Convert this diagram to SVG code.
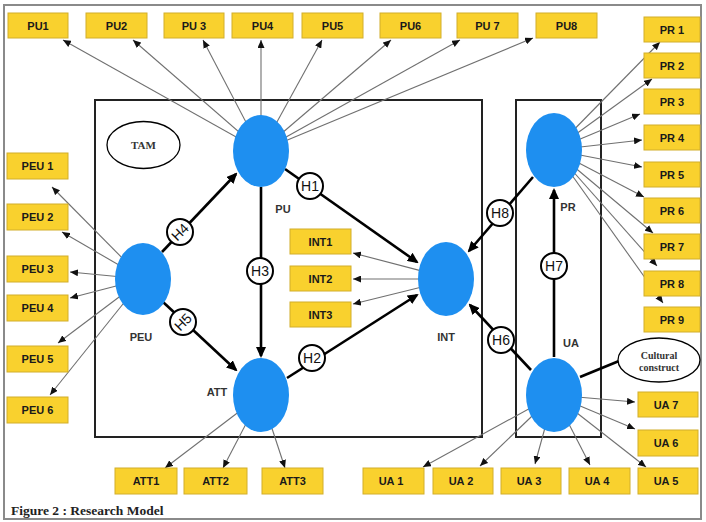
<svg xmlns="http://www.w3.org/2000/svg" width="706" height="522" viewBox="0 0 706 522">
<defs>
<style>
.frame{fill:#fff;stroke:#8a8a8a;stroke-width:2}
.panel{fill:none;stroke:#222;stroke-width:2}
.ind rect{fill:#F9D12E;stroke:#D2AE2A;stroke-width:1}
.ind text{font-family:"Liberation Sans",Arial,sans-serif;font-weight:bold;font-size:11px;fill:#1a1a1a;text-anchor:middle}
.lv ellipse{fill:#1E8FF0}
.lv text{font-family:"Liberation Sans",Arial,sans-serif;font-weight:bold;font-size:11px;fill:#333;text-anchor:middle}
.thin{stroke:#707070;stroke-width:1.1;fill:none;marker-end:url(#a1)}
.thick{stroke:#000;stroke-width:2.6;fill:none;marker-end:url(#a2)}
.plain{stroke:#000;stroke-width:2.6;fill:none}
.hyp circle{fill:#fff;stroke:#000;stroke-width:2}
.hyp text{font-family:"Liberation Sans",Arial,sans-serif;font-size:14px;fill:#111;text-anchor:middle}
.oval ellipse{fill:#fff;stroke:#000;stroke-width:1.3}
.oval text{font-family:"Liberation Serif","Times New Roman",serif;font-weight:bold;fill:#333;text-anchor:middle}
.cap{font-family:"Liberation Serif","Times New Roman",serif;font-weight:bold;font-size:13.5px;fill:#222}
</style>
<marker id="a1" viewBox="0 0 8 7" refX="8" refY="3.5" markerWidth="8" markerHeight="7" markerUnits="userSpaceOnUse" orient="auto"><path d="M0,0 L8,3.5 L0,7 z" fill="#111"/></marker>
<marker id="a2" viewBox="0 0 11 10" refX="9" refY="5" markerWidth="11" markerHeight="10" markerUnits="userSpaceOnUse" orient="auto"><path d="M0,0 L11,5 L0,10 z" fill="#000"/></marker>
</defs>
<rect class="frame" x="4" y="5" width="697" height="514"/>
<rect class="panel" x="95" y="100" width="387" height="337"/>
<rect class="panel" x="516" y="100" width="85" height="337"/>

<g id="connectors">
<!-- PU indicators -->
<line class="thin" x1="261" y1="151" x2="63" y2="40"/>
<line class="thin" x1="261" y1="151" x2="133" y2="40"/>
<line class="thin" x1="261" y1="151" x2="203" y2="40"/>
<line class="thin" x1="261" y1="151" x2="261" y2="40"/>
<line class="thin" x1="261" y1="151" x2="322" y2="40"/>
<line class="thin" x1="261" y1="151" x2="391" y2="40"/>
<line class="thin" x1="261" y1="151" x2="460" y2="40"/>
<line class="thin" x1="261" y1="151" x2="533" y2="38"/>
<!-- PEU indicators -->
<line class="thin" x1="143" y1="279" x2="52" y2="187"/>
<line class="thin" x1="143" y1="279" x2="62" y2="232"/>
<line class="thin" x1="143" y1="279" x2="70" y2="272"/>
<line class="thin" x1="143" y1="279" x2="70" y2="298"/>
<line class="thin" x1="143" y1="279" x2="58" y2="343"/>
<line class="thin" x1="143" y1="279" x2="50" y2="395"/>
<!-- INT indicators -->
<line class="thin" x1="428" y1="272.6" x2="353" y2="253"/>
<line class="thin" x1="428" y1="279" x2="353" y2="279"/>
<line class="thin" x1="428" y1="285.5" x2="353" y2="304"/>
<!-- ATT indicators -->
<line class="thin" x1="261" y1="395" x2="165" y2="468"/>
<line class="thin" x1="261" y1="395" x2="223" y2="468"/>
<line class="thin" x1="261" y1="395" x2="285" y2="468"/>
<!-- PR indicators -->
<line class="thin" x1="554" y1="150" x2="660" y2="42"/>
<line class="thin" x1="554" y1="150" x2="652" y2="79"/>
<line class="thin" x1="554" y1="150" x2="640" y2="114"/>
<line class="thin" x1="554" y1="150" x2="642" y2="140"/>
<line class="thin" x1="554" y1="150" x2="642" y2="167"/>
<line class="thin" x1="554" y1="150" x2="644" y2="197"/>
<line class="thin" x1="554" y1="150" x2="653" y2="233"/>
<line class="thin" x1="554" y1="150" x2="657" y2="266"/>
<line class="thin" x1="554" y1="150" x2="663" y2="303"/>
<!-- UA indicators -->
<line class="thin" x1="554" y1="395" x2="423" y2="467"/>
<line class="thin" x1="554" y1="395" x2="480" y2="466"/>
<line class="thin" x1="554" y1="395" x2="535" y2="464"/>
<line class="thin" x1="554" y1="395" x2="590" y2="465"/>
<line class="thin" x1="554" y1="395" x2="646" y2="467"/>
<line class="thin" x1="554" y1="395" x2="635" y2="429"/>
<line class="thin" x1="554" y1="395" x2="635" y2="402"/>
<!-- structural paths -->
<line class="thick" x1="162" y1="252" x2="236" y2="174"/>
<line class="thick" x1="163" y1="302" x2="236" y2="370"/>
<line class="thick" x1="261" y1="187" x2="261" y2="356"/>
<line class="thick" x1="285" y1="169" x2="417" y2="262"/>
<line class="thick" x1="287" y1="378" x2="417" y2="295"/>
<line class="thick" x1="533" y1="177" x2="469" y2="251"/>
<line class="thick" x1="531" y1="370" x2="470" y2="305"/>
<line class="thick" x1="554" y1="357" x2="554" y2="190"/>
<line class="plain" x1="580" y1="377" x2="619" y2="361"/>
</g>

<g id="hypotheses" class="hyp">
<g id="H1"><circle cx="310" cy="186" r="13"/><text x="310" y="191">H1</text></g>
<g id="H2"><circle cx="312" cy="358" r="13"/><text x="312" y="363">H2</text></g>
<g id="H3"><circle cx="260" cy="271" r="13"/><text x="260" y="276">H3</text></g>
<g id="H4"><circle cx="180" cy="232" r="13"/><text x="180" y="237" transform="rotate(-45 180 232)">H4</text></g>
<g id="H5"><circle cx="183" cy="322" r="13"/><text x="183" y="327" transform="rotate(-45 183 322)">H5</text></g>
<g id="H6"><circle cx="501" cy="340" r="13"/><text x="501" y="345">H6</text></g>
<g id="H7"><circle cx="554" cy="266" r="13"/><text x="554" y="271">H7</text></g>
<g id="H8"><circle cx="500" cy="213" r="13"/><text x="500" y="218">H8</text></g>
</g>

<g id="PU" class="lv"><ellipse cx="261" cy="151" rx="28" ry="36"/><text x="283" y="213">PU</text></g>
<g id="PEU" class="lv"><ellipse cx="143" cy="279" rx="28" ry="36"/><text x="141" y="341">PEU</text></g>
<g id="ATT" class="lv"><ellipse cx="261" cy="395" rx="28" ry="37"/><text x="217" y="396">ATT</text></g>
<g id="INT" class="lv"><ellipse cx="446" cy="279" rx="28" ry="37"/><text x="446" y="341">INT</text></g>
<g id="PR" class="lv"><ellipse cx="554" cy="150" rx="28" ry="37"/><text x="568" y="211">PR</text></g>
<g id="UA" class="lv"><ellipse cx="554" cy="395" rx="28" ry="37"/><text x="571" y="347">UA</text></g>

<g id="TAM" class="oval"><ellipse cx="143.5" cy="145" rx="36.5" ry="23.5"/><text x="143.5" y="149" font-size="11">TAM</text></g>
<g id="Cultural" class="oval"><ellipse cx="659" cy="360" rx="41" ry="22"/><text x="659" y="358.5" font-size="10">Cultural</text><text x="659" y="371" font-size="10">construct</text></g>

<g id="PU1" class="ind"><rect x="8" y="13" width="60" height="25"/><text x="38" y="29.5">PU1</text></g>
<g id="PU2" class="ind"><rect x="86" y="13" width="61" height="25"/><text x="116.5" y="29.5">PU2</text></g>
<g id="PU3" class="ind"><rect x="164" y="13" width="60" height="25"/><text x="194" y="29.5">PU 3</text></g>
<g id="PU4" class="ind"><rect x="232" y="13" width="61" height="25"/><text x="262.5" y="29.5">PU4</text></g>
<g id="PU5" class="ind"><rect x="302" y="13" width="61" height="25"/><text x="332.5" y="29.5">PU5</text></g>
<g id="PU6" class="ind"><rect x="380" y="13" width="61" height="25"/><text x="410.5" y="29.5">PU6</text></g>
<g id="PU7" class="ind"><rect x="457" y="13" width="61" height="25"/><text x="487.5" y="29.5">PU 7</text></g>
<g id="PU8" class="ind"><rect x="536" y="13" width="61" height="25"/><text x="566.5" y="29.5">PU8</text></g>

<g id="PR1" class="ind"><rect x="644" y="17" width="56" height="25"/><text x="672" y="33.5">PR 1</text></g>
<g id="PR2" class="ind"><rect x="644" y="53" width="56" height="25"/><text x="672" y="69.5">PR 2</text></g>
<g id="PR3" class="ind"><rect x="644" y="89" width="56" height="25"/><text x="672" y="105.5">PR 3</text></g>
<g id="PR4" class="ind"><rect x="644" y="125" width="56" height="25"/><text x="672" y="141.5">PR 4</text></g>
<g id="PR5" class="ind"><rect x="644" y="162" width="56" height="25"/><text x="672" y="178.5">PR 5</text></g>
<g id="PR6" class="ind"><rect x="644" y="198" width="56" height="25"/><text x="672" y="214.5">PR 6</text></g>
<g id="PR7" class="ind"><rect x="644" y="234" width="56" height="25"/><text x="672" y="250.5">PR 7</text></g>
<g id="PR8" class="ind"><rect x="644" y="271" width="56" height="25"/><text x="672" y="287.5">PR 8</text></g>
<g id="PR9" class="ind"><rect x="644" y="307" width="56" height="25"/><text x="672" y="323.5">PR 9</text></g>

<g id="PEU1" class="ind"><rect x="7" y="153" width="61" height="26"/><text x="37.5" y="170">PEU 1</text></g>
<g id="PEU2" class="ind"><rect x="7" y="204" width="61" height="26"/><text x="37.5" y="221">PEU 2</text></g>
<g id="PEU3" class="ind"><rect x="7" y="256" width="61" height="26"/><text x="37.5" y="273">PEU 3</text></g>
<g id="PEU4" class="ind"><rect x="7" y="295" width="61" height="26"/><text x="37.5" y="312">PEU 4</text></g>
<g id="PEU5" class="ind"><rect x="7" y="346" width="61" height="26"/><text x="37.5" y="363">PEU 5</text></g>
<g id="PEU6" class="ind"><rect x="7" y="397" width="61" height="26"/><text x="37.5" y="414">PEU 6</text></g>

<g id="INT1" class="ind"><rect x="290" y="229" width="61" height="25"/><text x="320.5" y="245.5">INT1</text></g>
<g id="INT2" class="ind"><rect x="290" y="266" width="61" height="25"/><text x="320.5" y="282.5">INT2</text></g>
<g id="INT3" class="ind"><rect x="290" y="302" width="61" height="25"/><text x="320.5" y="318.5">INT3</text></g>

<g id="ATT1" class="ind"><rect x="115" y="468" width="62" height="26"/><text x="146" y="485">ATT1</text></g>
<g id="ATT2" class="ind"><rect x="184" y="468" width="63" height="26"/><text x="215.5" y="485">ATT2</text></g>
<g id="ATT3" class="ind"><rect x="262" y="468" width="61" height="26"/><text x="292.5" y="485">ATT3</text></g>

<g id="UA1" class="ind"><rect x="363" y="468" width="61" height="26"/><text x="391" y="485">UA 1</text></g>
<g id="UA2" class="ind"><rect x="433" y="468" width="60" height="26"/><text x="461" y="485">UA 2</text></g>
<g id="UA3" class="ind"><rect x="501" y="468" width="60" height="26"/><text x="529" y="485">UA 3</text></g>
<g id="UA4" class="ind"><rect x="569" y="468" width="61" height="26"/><text x="597" y="485">UA 4</text></g>
<g id="UA5" class="ind"><rect x="638" y="468" width="60" height="26"/><text x="666" y="485">UA 5</text></g>
<g id="UA6" class="ind"><rect x="638" y="430" width="60" height="26"/><text x="666" y="447">UA 6</text></g>
<g id="UA7" class="ind"><rect x="638" y="392" width="60" height="25"/><text x="666" y="408.5">UA 7</text></g>

<text class="cap" x="11" y="515">Figure 2 : Research Model</text>
</svg>
